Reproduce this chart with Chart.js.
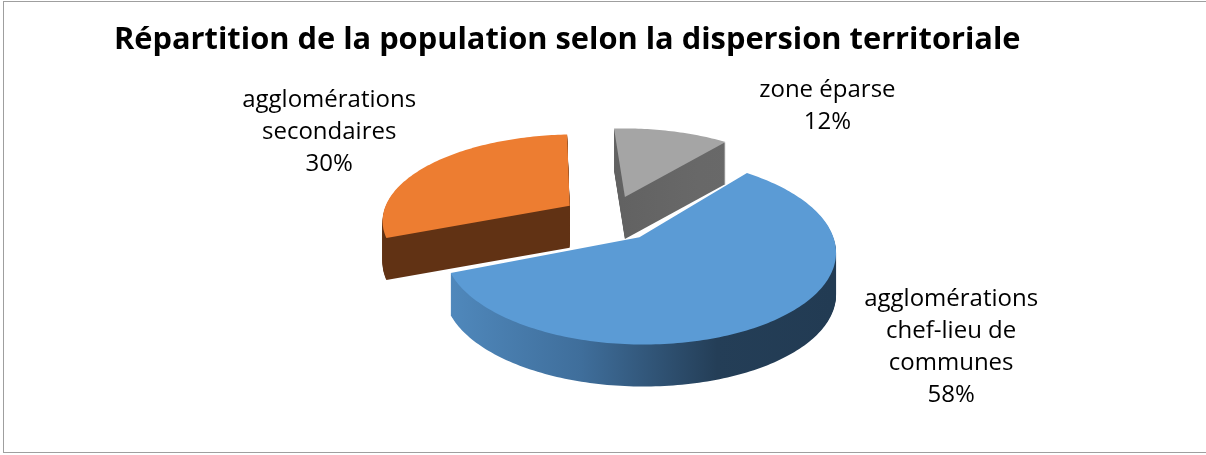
<!DOCTYPE html>
<html>
<head>
<meta charset="utf-8">
<script src="https://cdn.jsdelivr.net/npm/chart.js@4.4.1/dist/chart.umd.min.js"></script>
<style>
  html, body { margin: 0; padding: 0; background: #ffffff; }
  #wrap { position: relative; width: 1206px; height: 455px; }
  canvas { display: block; }
</style>
</head>
<body>
<div id="wrap"><canvas id="c" width="1206" height="455"></canvas></div>
<script>
// ---- data ----
const categories = ['agglomérations chef-lieu de communes', 'agglomérations secondaires', 'zone éparse'];
const labelLines = [['agglomérations', 'chef-lieu de', 'communes'], ['agglomérations', 'secondaires'], ['zone éparse']];
const shares = [58, 30, 12];
const chartTitle = 'Répartition de la population selon la dispersion territoriale';

// ---- style ----
const topColors = ['#5b9bd5', '#ed7d31', '#a5a5a5'];
const sideStops = [0, 0.35, 0.7, 1];
const sideColors = [
  ['#5089bd', '#3f6e9b', '#243e57', '#223b53'],
  ['#613214', '#613214', '#613214', '#5e3013'],
  ['#4a4a4a', '#5e5e5e', '#686868', '#6a6a6a']
];
const VIEW = { tilt: 0.47, persp: 0.15, depth: 42, explode: 49 };
const labelOffsets = [[182, 25], [-102, -32], [156, -25]];
const FONT = '"Open Sans", Lato, sans-serif';

function project(cx, cy, R, u, v, z) {
  const s = 1 + VIEW.persp * v / R;
  return [cx + u * s, cy + VIEW.tilt * v * s + z];
}

const pie3d = {
  id: 'pie3d',
  beforeDraw(chart) {
    const ctx = chart.ctx;
    ctx.save();
    ctx.strokeStyle = '#9f9f9f';
    ctx.lineWidth = 1;
    ctx.strokeRect(3.5, 1.5, 1210, 451);
    ctx.restore();
  },
  beforeDatasetsDraw(chart) {
    const ctx = chart.ctx;
    const arcs = chart.getDatasetMeta(0).data;
    const slices = arcs.map((arc, i) => {
      const mid = (arc.startAngle + arc.endAngle) / 2;
      return {
        i, arc, mid,
        cx: arc.x, cy: arc.y, r: arc.outerRadius,
        eu: Math.cos(mid) * VIEW.explode,
        ev: Math.sin(mid) * VIEW.explode
      };
    });
    const path = (s, z) => {
      const a0 = s.arc.startAngle, a1 = s.arc.endAngle;
      ctx.beginPath();
      let p = project(s.cx, s.cy, s.r, s.eu, s.ev, z);
      ctx.moveTo(p[0], p[1]);
      const n = Math.max(8, Math.ceil((a1 - a0) / 0.02));
      for (let k = 0; k <= n; k++) {
        const a = a0 + (a1 - a0) * k / n;
        p = project(s.cx, s.cy, s.r, s.eu + s.r * Math.cos(a), s.ev + s.r * Math.sin(a), z);
        ctx.lineTo(p[0], p[1]);
      }
      ctx.closePath();
    };
    const order = slices.slice().sort((a, b) => a.ev - b.ev);
    ctx.save();
    for (const s of order) {
      const left = project(s.cx, s.cy, s.r, s.eu - s.r, s.ev, 0)[0];
      const right = project(s.cx, s.cy, s.r, s.eu + s.r, s.ev, 0)[0];
      const g = ctx.createLinearGradient(left, 0, right, 0);
      sideStops.forEach((t, k) => g.addColorStop(t, sideColors[s.i][k]));
      ctx.fillStyle = g;
      for (let z = VIEW.depth; z >= 1; z--) { path(s, z); ctx.fill(); }
      ctx.fillStyle = topColors[s.i];
      path(s, 0); ctx.fill();
    }
    // labels
    ctx.fillStyle = '#000000';
    ctx.font = '24px ' + FONT;
    ctx.textAlign = 'center';
    ctx.textBaseline = 'middle';
    const lh = 32;
    for (const s of slices) {
      const a = project(s.cx, s.cy, s.r, s.eu + s.r * Math.cos(s.mid), s.ev + s.r * Math.sin(s.mid), 0);
      const lines = labelLines[s.i].concat([shares[s.i] + '%']);
      const lx = a[0] + labelOffsets[s.i][0];
      const ly = a[1] + labelOffsets[s.i][1];
      const y0 = ly - (lines.length - 1) * lh / 2;
      lines.forEach((t, k) => ctx.fillText(t, lx, y0 + k * lh));
    }
    ctx.restore();
    return false;
  }
};

new Chart(document.getElementById('c'), {
  type: 'pie',
  data: {
    labels: categories,
    datasets: [{ data: shares, backgroundColor: topColors, borderWidth: 0 }]
  },
  options: {
    responsive: false,
    animation: false,
    devicePixelRatio: 1,
    rotation: 40,
    radius: 188,
    layout: { padding: { left: 114, right: 100, top: 22, bottom: 78 } },
    plugins: {
      legend: { display: false },
      tooltip: { enabled: false },
      title: {
        display: true,
        text: chartTitle,
        align: 'start',
        color: '#000000',
        font: { family: FONT, size: 30.8, weight: 'bold', lineHeight: 1.2 },
        padding: { top: 0, bottom: 0 }
      }
    }
  },
  plugins: [pie3d]
});
</script>
</body>
</html>
